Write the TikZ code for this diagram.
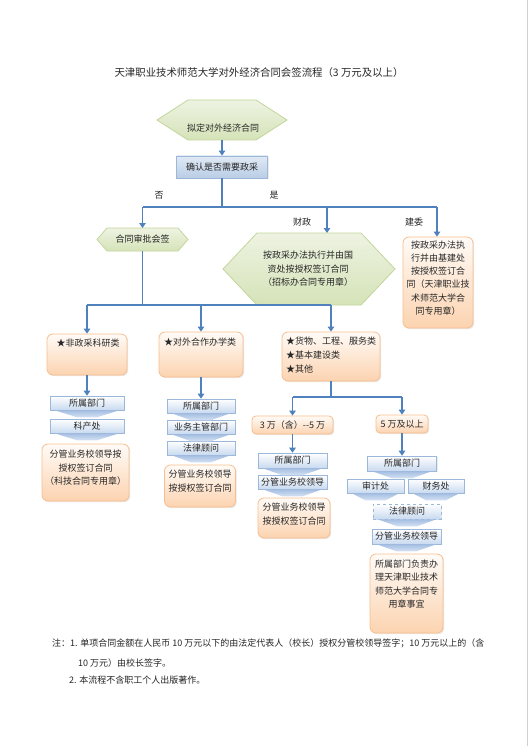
\documentclass[tikz,border=0pt]{standalone}
\usepackage{fontspec}
\setmainfont{Noto Sans CJK SC}
\usetikzlibrary{arrows.meta,shadows}
\definecolor{arrowblue}{HTML}{4F81BD}
\definecolor{oborder}{HTML}{F9BE8E}
\definecolor{otop}{HTML}{FFFBF7}
\definecolor{obot}{HTML}{FCD3B0}
\definecolor{bborder}{HTML}{9BB7DA}
\definecolor{bbot}{HTML}{C9DAF0}
\definecolor{chevtop}{HTML}{A4BEE2}
\definecolor{chevbot}{HTML}{D6E2F3}
\definecolor{gborder}{HTML}{C3D69B}
\definecolor{gtop}{HTML}{EEF3E2}
\definecolor{gbot}{HTML}{D5E3B8}
\definecolor{rtop}{HTML}{E1EAF5}
\definecolor{rbot}{HTML}{B9CDE5}
\definecolor{txt}{HTML}{262626}
\newcommand{\hexdraw}[2]{\path[hexfill] (#1.west) -- ([xshift=#2]#1.north west) -- ([xshift=-#2]#1.north east) -- (#1.east) -- ([xshift=-#2]#1.south east) -- ([xshift=#2]#1.south west) -- cycle;}
\newcommand{\chev}[1]{\path[chevfill] ([xshift=5pt]#1.south west) -- ([xshift=-5pt]#1.south east) -- ([shift={(10pt,-7pt)}]#1.south) -- ([shift={(-10pt,-7pt)}]#1.south) -- cycle;}
\begin{document}
\begin{tikzpicture}[x=1pt,y=-1pt,
  every node/.style={text=txt},
  fnine/.style={font=\fontsize{9pt}{13.5pt}\selectfont},
  area/.style={draw=none,inner sep=0pt,outer sep=0pt},
  hexfill/.style={draw=gborder,line width=0.8pt,top color=gtop,bottom color=gbot},
  chevfill/.style={top color=chevtop,bottom color=chevbot,draw=none},
  obox/.style={draw=oborder,line width=0.8pt,rounded corners=6pt,top color=otop,bottom color=obot,
     drop shadow={opacity=0.18,shadow xshift=1.2pt,shadow yshift=-1.2pt},inner sep=0pt},
  bbox/.style={draw=bborder,line width=0.6pt,top color=white,bottom color=bbot,inner sep=0pt,
     drop shadow={opacity=0.15,shadow xshift=1pt,shadow yshift=-1pt},fnine},
  rbox/.style={draw=bborder,line width=0.8pt,top color=rtop,bottom color=rbot,inner sep=0pt,fnine,
     drop shadow={opacity=0.15,shadow xshift=1pt,shadow yshift=-1pt}},
  conn/.style={draw=arrowblue,line width=1.8pt},
  arr/.style={conn,-{Triangle[length=5pt,width=6.5pt]}},
  lbl/.style={fnine,inner sep=0pt},
  note/.style={anchor=base west,inner sep=0pt,font=\fontsize{9pt}{11pt}\selectfont}]
\useasboundingbox (0,0) rectangle (531,746);
\fill[white] (0,0) rectangle (531,746);
\draw[gray!35,line width=0.8pt] (527,0) -- (527,746);

% title
\node[font=\fontsize{10.4pt}{13pt}\selectfont] (title) at (259,73) {天津职业技术师范大学对外经济合同会签流程（3 万元及以上）};

% top hexagon and first decision box
\node[area,minimum width=130pt,minimum height=40pt] (h1) at (222,120) {};
\hexdraw{h1}{31pt}
\node[lbl] (h1t) at (223,128) {拟定对外经济合同};
\node[rbox,minimum width=91pt,minimum height=22pt] (r1) at (222,167) {确认是否需要政采};
\draw[arr] (h1.south) -- (r1.north);

% branch 1
\coordinate (j0) at (222,207);
\coordinate (jL) at (142.5,207);
\coordinate (jM) at (327,207);
\coordinate (jR) at (437,207);
\draw[conn] (r1.south) -- (j0);
\draw[conn] (jL) -- (jR);
\node[lbl] (no) at (159,195) {否};
\node[lbl] (yes) at (274,195) {是};
\node[lbl] (cz) at (302,222) {财政};
\node[lbl] (jw) at (414,222) {建委};

\node[area,minimum width=91pt,minimum height=23pt] (h2) at (142.5,239.5) {};
\hexdraw{h2}{10pt}
\node[lbl] (h2t) at (142.5,239.5) {合同审批会签};

\node[area,minimum width=172pt,minimum height=72pt] (h3) at (309,269) {};
\hexdraw{h3}{34pt}
\node[lbl,align=center] (h3t) at (308,269) {按政采办法执行并由国\\资处按授权签订合同\\（招标办合同专用章）};

\node[obox,minimum width=70pt,minimum height=91pt] (o1) at (438,282.5) {};
\node[lbl,align=center,font=\fontsize{9pt}{13.2pt}\selectfont] (o1t) at (438,278) {按政采办法执\\行并由基建处\\按授权签订合\\同（天津职业技\\术师范大学合\\同专用章）};

\draw[arr] (jL) -- (jL |- h2.north);
\draw[arr] (jM) -- (jM |- h3.north);
\draw[arr] (jR) -- (jR |- o1.north);

% branch 2
\coordinate (k0) at (142.5,305);
\coordinate (kL) at (87,305);
\coordinate (kM) at (201,305);
\coordinate (kR) at (331,305);
\draw[conn] (h2.south) -- (k0);
\draw[conn] (kL) -- (kR);

\node[obox,minimum width=80pt,minimum height=41pt] (a) at (87,354.5) {};
\node[lbl] (at) at (88,343) {★非政采科研类};
\node[obox,minimum width=84pt,minimum height=45pt] (b) at (201,354.5) {};
\node[lbl] (bt) at (200,342) {★对外合作办学类};
\node[obox,minimum width=98pt,minimum height=49pt] (c) at (331,356.5) {};
\node[lbl,align=left,anchor=west,font=\fontsize{9pt}{14pt}\selectfont] (ct) at (286,355) {★货物、工程、服务类\\★基本建设类\\★其他};

\draw[arr] (kL) -- (kL |- a.north);
\draw[arr] (kM) -- (kM |- b.north);
\draw[arr] (kR) -- (kR |- c.north);

% left column
\node[bbox,minimum width=74pt,minimum height=14pt] (p1) at (87,403) {所属部门};
\node[bbox,minimum width=74pt,minimum height=14pt] (p2) at (87,426) {科产处};
\chev{p1}
\chev{p2}
\node[obox,minimum width=87pt,minimum height=57pt] (o2) at (85.5,472.5) {};
\node[lbl,align=center] (o2t) at (85.5,468) {分管业务校领导按\\授权签订合同\\（科技合同专用章）};
\draw[arr] (a.south) -- (p1.north);

% middle column
\node[bbox,minimum width=68pt,minimum height=14pt] (q1) at (201,406) {所属部门};
\node[bbox,minimum width=68pt,minimum height=14pt] (q2) at (201,427) {业务主管部门};
\node[bbox,minimum width=68pt,minimum height=14pt] (q3) at (201,448) {法律顾问};
\chev{q1}
\chev{q2}
\chev{q3}
\node[obox,minimum width=71pt,minimum height=42pt] (o3) at (200,486) {};
\node[lbl,align=center] (o3t) at (200,481) {分管业务校领导\\按授权签订合同};
\draw[arr] (b.south) -- (q1.north);

% split by amount
\coordinate (m0) at (331,397);
\coordinate (mL) at (292.5,397);
\coordinate (mR) at (402,397);
\draw[conn] (c.south) -- (m0);
\draw[conn] (mL) -- (mR);
\node[obox,rounded corners=4pt,minimum width=81pt,minimum height=18pt,fnine] (d) at (292.5,425) {3 万（含）-{}-5 万};
\node[obox,rounded corners=4pt,minimum width=52pt,minimum height=18pt,fnine] (e) at (402,424) {5 万及以上};
\draw[arr] (mL) -- (mL |- d.north);
\draw[arr] (mR) -- (mR |- e.north);

% 3-5 column
\node[bbox,minimum width=69pt,minimum height=15pt] (s1) at (292.5,460.5) {所属部门};
\node[bbox,minimum width=69pt,minimum height=14pt] (s2) at (292.5,482) {分管业务校领导};
\chev{s1}
\chev{s2}
\node[obox,minimum width=72pt,minimum height=40pt] (o4) at (294,518) {};
\node[lbl,align=center] (o4t) at (294,514) {分管业务校领导\\按授权签订合同};
\draw[arr] (d.south) -- (s1.north);

% >=5 column
\node[bbox,minimum width=69pt,minimum height=15pt] (t1) at (402,463.5) {所属部门};
\node[bbox,minimum width=57pt,minimum height=14pt] (t2) at (375.5,486) {审计处};
\node[bbox,minimum width=56pt,minimum height=14pt] (t3) at (436,486) {财务处};
\node[bbox,dashed,minimum width=68pt,minimum height=15pt] (t4) at (407,511.5) {法律顾问};
\node[bbox,minimum width=69pt,minimum height=15pt] (t5) at (406.5,536.5) {分管业务校领导};
\chev{t1}
\chev{t2}
\chev{t3}
\chev{t4}
\chev{t5}
\node[obox,minimum width=73pt,minimum height=79pt] (o5) at (406.5,593.5) {};
\node[lbl,align=center] (o5t) at (406.5,584) {所属部门负责办\\理天津职业技术\\师范大学合同专\\用章事宜};
\draw[arr] (e.south) -- (t1.north);

% notes
\node[note] (n1) at (52,646) {注：1. 单项合同金额在人民币 10 万元以下的由法定代表人（校长）授权分管校领导签字；10 万元以上的（含};
\node[note] (n2) at (78,666) {10 万元）由校长签字。};
\node[note] (n3) at (69,683) {2. 本流程不含职工个人出版著作。};
\end{tikzpicture}
\end{document}
